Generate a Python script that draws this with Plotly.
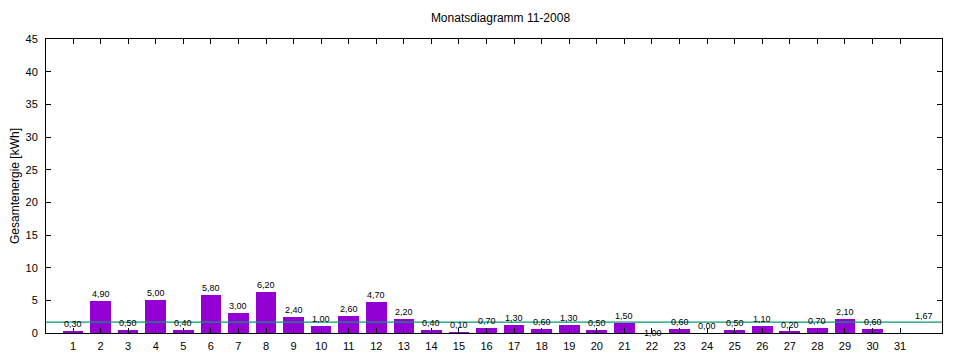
import plotly.graph_objects as go

days = list(range(1, 32))
energy = [0.30, 4.90, 0.50, 5.00, 0.40, 5.80, 3.00, 6.20, 2.40, 1.00,
          2.60, 4.70, 2.20, 0.40, 0.10, 0.70, 1.30, 0.60, 1.30, 0.50,
          1.50, -1.00, 0.60, 0.00, 0.50, 1.10, 0.20, 0.70, 2.10, 0.60, None]
average = 1.67
y_ticks = list(range(0, 50, 5))
y_range = [0, 45]
x_range = [0.02, 32.52]

FONT = "Liberation Sans, Arial, sans-serif"

def fmt(v):
    return f"{v:.2f}".replace(".", ",")

def ydom(v):
    # position in the y axis domain, so labels below the axis minimum are still drawn
    return (v - y_range[0]) / (y_range[1] - y_range[0])

fig = go.Figure()
fig.add_trace(go.Bar(x=days, y=energy, width=0.75, marker=dict(color="#9400d3", line=dict(width=0)),
                     showlegend=False, hoverinfo="x+y"))

fig.add_trace(go.Scatter(x=x_range, y=[average, average], mode="lines",
                         line=dict(color="#009e73", width=1.3), showlegend=False, hoverinfo="skip"))

annotations = []
for d, v in zip(days, energy):
    if v is None:
        continue
    annotations.append(dict(x=d, y=ydom(v), xref="x", yref="y domain", text=fmt(v), showarrow=False,
                            yanchor="middle", xanchor="center", yshift=7,
                            font=dict(size=9, color="#000", family=FONT)))
annotations.append(dict(x=x_range[1] - 0.25, y=ydom(average), xref="x", yref="y domain", text=fmt(average),
                        showarrow=False, xanchor="right", yanchor="middle", yshift=6,
                        font=dict(size=9, color="#000", family=FONT)))

fig.update_layout(
    width=960, height=360,
    margin=dict(l=38, r=26, t=31, b=35, autoexpand=False),
    paper_bgcolor="white", plot_bgcolor="white",
    title=dict(text="Monatsdiagramm 11-2008", x=0.513, xanchor="center", y=0.972, yanchor="middle",
               font=dict(size=12, family=FONT, color="#000"), automargin=False),
    font=dict(family=FONT, size=11, color="#000"),
    annotations=annotations,
    bargap=0,
)
fig.update_xaxes(range=x_range, tickmode="array", tickvals=days, ticktext=[str(d) for d in days],
                 ticks="inside", ticklen=5, tickcolor="#000", showline=True, linecolor="#000", linewidth=1,
                 mirror="ticks", showgrid=False, zeroline=False, automargin=False, ticklabelstandoff=3,
                 tickfont=dict(size=11, family=FONT))
fig.update_yaxes(range=y_range, tickmode="array", tickvals=y_ticks, ticktext=[str(t) for t in y_ticks],
                 ticks="inside", ticklen=5, tickcolor="#000", showline=True, linecolor="#000", linewidth=1,
                 mirror="ticks", showgrid=False, zeroline=False, automargin=False, ticklabelstandoff=5,
                 tickfont=dict(size=11, family=FONT),
                 title=dict(text="Gesamtenergie [kWh]", standoff=8, font=dict(size=12, family=FONT)))

fig.write_html("out.html")
